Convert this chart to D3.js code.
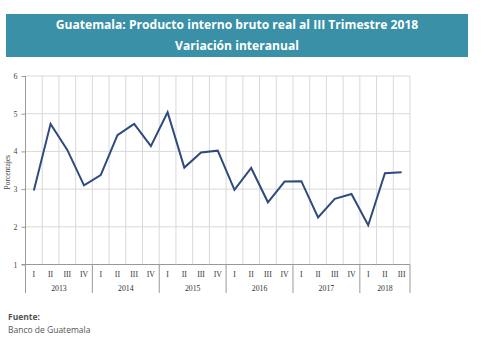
<!DOCTYPE html>
<html>
<head>
<meta charset="utf-8">
<script src="https://cdn.jsdelivr.net/npm/d3@7"></script>
<style>
  html, body { margin: 0; padding: 0; background: #fff; }
  svg { display: block; }
</style>
</head>
<body>
<svg id="chart" width="484" height="349"></svg>
<script>
// Year-over-year variation of real GDP, quarterly
const years = ["2013", "2014", "2015", "2016", "2017", "2018"];
const quartersPerYear = [4, 4, 4, 4, 4, 3];
const quarterLabels = ["I", "II", "III", "IV"];
const values = [
  2.96, 4.73, 4.04, 3.10,
  3.37, 4.43, 4.73, 4.14,
  5.04, 3.57, 3.97, 4.02,
  2.98, 3.56, 2.65, 3.20,
  3.21, 2.25, 2.74, 2.87,
  2.04, 3.42, 3.45
];
const yTicks = [1, 2, 3, 4, 5, 6];
const titleLines = ["Guatemala: Producto interno bruto real al III Trimestre 2018", "Variación interanual"];

// Build per-quarter entries
const points = [];
years.forEach((yr, yi) => {
  for (let q = 0; q < quartersPerYear[yi]; q++) {
    points.push({ key: yr + "-" + q, year: yr, q: quarterLabels[q], value: values[points.length] });
  }
});

const svg = d3.select("#chart");
const serif = "'Liberation Serif', 'Times New Roman', serif";
const sans = "'Open Sans', 'Noto Sans', sans-serif";

// Title banner
svg.append("rect").attr("x", 6).attr("y", 14).attr("width", 462).attr("height", 43)
  .attr("fill", "#3a90a6");
svg.selectAll("text.title").data(titleLines).join("text")
  .attr("class", "title")
  .attr("x", 237).attr("y", (d, i) => 29 + i * 20.5)
  .attr("text-anchor", "middle")
  .attr("fill", "#fff").attr("font-family", sans).attr("font-weight", 700)
  .attr("font-size", 12.1)
  .text(d => d);

const plotLeft = 25.5, plotRight = 410, plotTop = 76, plotBottom = 264.5, axisFoot = 293;

const x = d3.scaleBand().domain(points.map(d => d.key)).range([plotLeft, plotRight]).padding(0);
const y = d3.scaleLinear().domain([1, 6]).range([plotBottom, plotTop]);

const g = svg.append("g");

// Horizontal gridlines
g.selectAll("line.hgrid").data(yTicks.filter(t => t > 1)).join("line")
  .attr("x1", plotLeft).attr("x2", plotRight)
  .attr("y1", d => y(d)).attr("y2", d => y(d))
  .attr("stroke", "#d9d9d9").attr("stroke-width", 1);

// Vertical gridlines at category boundaries
g.selectAll("line.vgrid").data(points.map(d => x(d.key) + x.bandwidth())).join("line")
  .attr("x1", d => d).attr("x2", d => d)
  .attr("y1", plotTop).attr("y2", plotBottom)
  .attr("stroke", "#d9d9d9").attr("stroke-width", 1);

// Y axis
const yAxis = d3.axisLeft(y).tickValues(yTicks).tickSize(4).tickFormat(d3.format("d"));
const ya = svg.append("g").attr("transform", `translate(${plotLeft},0)`).call(yAxis);
ya.select(".domain").remove();
ya.selectAll(".tick line").attr("stroke", "#999");
ya.selectAll(".tick text").attr("font-family", serif).attr("font-size", 7.8)
  .attr("fill", "#444").attr("x", -8);
svg.append("line").attr("x1", plotLeft).attr("x2", plotLeft).attr("y1", plotTop).attr("y2", axisFoot)
  .attr("stroke", "#999").attr("stroke-width", 1);

// Bottom axis line
svg.append("line").attr("x1", plotLeft - 4).attr("x2", plotRight).attr("y1", plotBottom).attr("y2", plotBottom)
  .attr("stroke", "#999").attr("stroke-width", 1);

// Quarter labels
const xAxis = d3.axisBottom(x).tickSize(0).tickFormat(k => points.find(p => p.key === k).q);
const xa = svg.append("g").attr("transform", `translate(0,${plotBottom})`).call(xAxis);
xa.select(".domain").remove();
xa.selectAll(".tick text").attr("font-family", serif).attr("font-size", 7.8)
  .attr("fill", "#333").attr("dy", 0).attr("y", 12.5);

// Year groups: separators and labels
const yearSpans = years.map(yr => {
  const ps = points.filter(p => p.year === yr);
  return { year: yr, x0: x(ps[0].key), x1: x(ps[ps.length - 1].key) + x.bandwidth() };
});
svg.selectAll("line.ysep").data(yearSpans).join("line")
  .attr("x1", d => d.x1).attr("x2", d => d.x1)
  .attr("y1", plotBottom).attr("y2", axisFoot)
  .attr("stroke", "#999").attr("stroke-width", 1);
svg.selectAll("text.year").data(yearSpans).join("text")
  .attr("x", d => (d.x0 + d.x1) / 2).attr("y", 291)
  .attr("text-anchor", "middle")
  .attr("font-family", serif).attr("font-size", 7.8).attr("fill", "#333")
  .text(d => d.year);

// Y axis title
svg.append("text")
  .attr("transform", `translate(10,${(plotTop + plotBottom) / 2 + 2}) rotate(-90)`)
  .attr("text-anchor", "middle")
  .attr("font-family", serif).attr("font-size", 7.5).attr("fill", "#444")
  .text("Porcentajes");

// Data line
const line = d3.line().x(d => x(d.key) + x.bandwidth() / 2).y(d => y(d.value));
svg.append("path").datum(points)
  .attr("d", line)
  .attr("fill", "none").attr("stroke", "#2f4a7c").attr("stroke-width", 2)
  .attr("stroke-linejoin", "miter");

// Source note
svg.append("text").attr("x", 8).attr("y", 320)
  .attr("font-family", sans).attr("font-size", 8.5).attr("font-weight", 700).attr("fill", "#555")
  .text("Fuente:");
svg.append("text").attr("x", 8).attr("y", 333)
  .attr("font-family", sans).attr("font-size", 8.5).attr("fill", "#555")
  .text("Banco de Guatemala");
</script>
</body>
</html>
